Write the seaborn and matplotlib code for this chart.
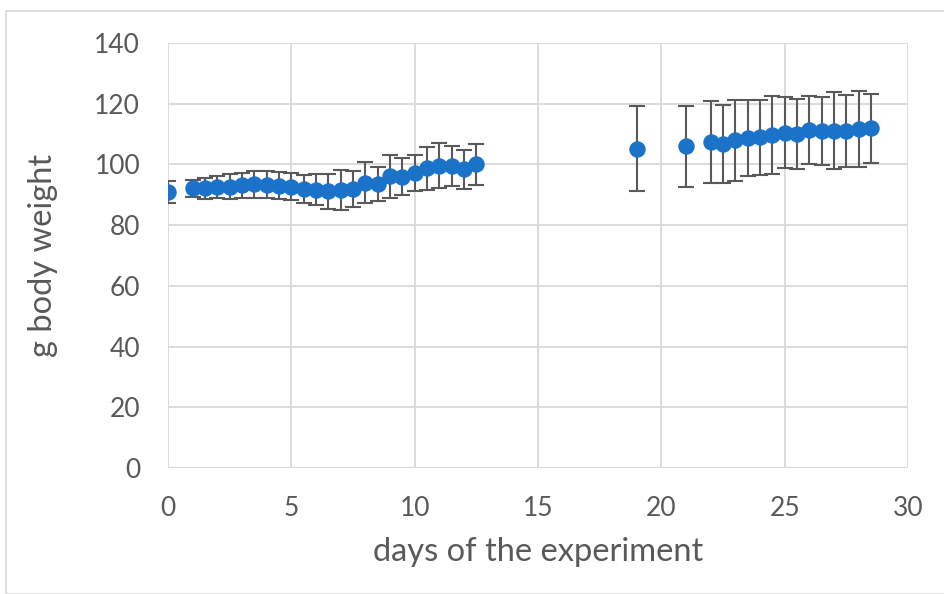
import matplotlib
matplotlib.use("Agg")
import matplotlib.pyplot as plt
import seaborn as sns
import pandas as pd
from matplotlib.patches import Rectangle

days = [0, 1, 1.5, 2, 2.5, 3, 3.5, 4, 4.5, 5, 5.5, 6, 6.5, 7, 7.5, 8, 8.5, 9, 9.5,
        10, 10.5, 11, 11.5, 12, 12.5,
        19, 21, 22, 22.5, 23, 23.5, 24, 24.5, 25, 25.5, 26, 26.5, 27, 27.5, 28, 28.5]
weight = [90.8, 92.1, 92.1, 92.7, 92.7, 93.2, 93.4, 93.3, 93.0, 92.7, 92.0, 91.7, 91.2,
          91.6, 91.9, 94.0, 93.4, 96.1, 95.9, 97.3, 98.7, 99.6, 99.5, 98.4, 100.0,
          105.2, 106.0, 107.4, 106.7, 108.0, 108.6, 108.9, 109.7, 110.4, 110.0,
          111.3, 111.1, 111.1, 111.0, 111.7, 111.9]
sd = [3.6, 2.9, 3.4, 3.6, 4.0, 4.1, 4.4, 4.5, 4.4, 4.4, 4.6, 5.2, 5.8, 6.6, 5.9,
      6.7, 5.6, 7.1, 6.1, 5.9, 7.2, 7.4, 6.6, 6.4, 6.7,
      13.9, 13.4, 13.6, 12.9, 13.3, 12.5, 12.4, 12.8, 11.7, 11.5, 11.2, 11.2,
      12.6, 11.8, 12.4, 11.4]
x_ticks = [0, 5, 10, 15, 20, 25, 30]
y_ticks = [0, 20, 40, 60, 80, 100, 120, 140]

df = pd.DataFrame({"day": days, "weight": weight, "sd": sd})

sns.set_theme(style="white")
plt.rcParams["font.family"] = ["Lato", "DejaVu Sans"]

fig = plt.figure(figsize=(9.45, 5.94), dpi=100)
ax = fig.add_axes([168/945, 1-468/594, 740/945, 425/594])

grid_c = "#D9D9D9"
text_c = "#595959"
blue = "#1A73C9"

ax.errorbar(df["day"], df["weight"], yerr=df["sd"], fmt="none",
            ecolor="#595959", elinewidth=1.5, capsize=5.5, capthick=1.5, zorder=2)
sns.scatterplot(data=df, x="day", y="weight", ax=ax, color=blue, s=140,
                edgecolor=blue, linewidth=0, zorder=3, legend=False)

ax.set_xlim(0, 30)
ax.set_ylim(0, 140)
ax.set_xticks(x_ticks)
ax.set_yticks(y_ticks)
ax.grid(True, color=grid_c, linewidth=1.3)
ax.set_axisbelow(True)
for s in ax.spines.values():
    s.set_visible(False)
ax.axhline(0, color=grid_c, linewidth=1.5, zorder=1)
ax.tick_params(axis="both", length=0, labelsize=19, labelcolor=text_c)
ax.tick_params(axis="x", pad=20)
ax.tick_params(axis="y", pad=20)
ax.set_xlabel("days of the experiment", fontsize=23.5, color=text_c, labelpad=12)
ax.set_ylabel("g body weight", fontsize=23.5, color=text_c, labelpad=26)

fig.patches.append(Rectangle((6/945, 0), 1.2, 1 - 11/594, transform=fig.transFigure,
                             fill=False, edgecolor=grid_c, linewidth=1.2))

fig.savefig("out.png", dpi=100)
